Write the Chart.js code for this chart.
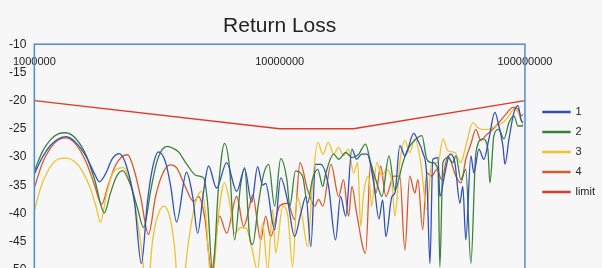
<!DOCTYPE html>
<html>
<head>
<meta charset="utf-8">
<script src="https://cdn.jsdelivr.net/npm/chart.js@4/dist/chart.umd.min.js"></script>
<style>
html,body{margin:0;padding:0;background:#f7f7f7;overflow:hidden;}
#wrap{position:relative;width:602px;height:285px;}
</style>
</head>
<body>
<div id="wrap"><canvas id="c"></canvas></div>
<script>
// ---- data (frequency in MHz, return loss in dB) ----
const seriesNames = ["1", "2", "3", "4", "limit"];
const xTickValues = [1000000, 10000000, 100000000];
const xTickLabels = ["1000000", "10000000", "100000000"];

const freq1 = [1.00,1.08,1.16,1.25,1.35,1.48,1.63,1.76,1.84,1.95,2.08,2.22,2.37,2.56,2.73,2.89,3.03,3.21,3.43,3.59,3.80,4.17,4.42,4.63,4.90,5.13,5.53,6.08,6.68,7.20,7.69,8.13,8.52,8.77,9.54,10.1,10.8,11.5,12.2,12.8,13.4,14.0,14.7,15.8,16.9,17.7,18.6,19.7,20.6,21.6,22.7,24.2,25.4,26.3,27.1,28.7,29.5,30.9,32.4,35.2,36.6,38.3,39.8,41.0,42.1,44.2,45.0,47.2,49.4,51.8,54.3,55.8,57.4,60.2,61.9,64.9,68.0,71.3,75.4,78.3,81.3,82.9,86.1,90.2,93.7,96.3,98.1];
const loss1 = [-33.0,-30.0,-28.0,-26.8,-26.4,-27.5,-30.0,-33.0,-34.4,-33.0,-30.3,-29.4,-31.5,-38.0,-48.9,-38.0,-32.0,-29.1,-31.0,-35.0,-41.5,-32.7,-37.0,-43.5,-36.0,-31.6,-35.5,-31.0,-36.1,-32.1,-38.0,-31.7,-35.0,-34.7,-42.9,-33.7,-38.0,-44.1,-40.0,-37.0,-45.9,-31.3,-31.3,-35.0,-44.7,-37.0,-40.5,-28.6,-30.4,-29.5,-29.5,-34.6,-41.0,-37.6,-44.1,-37.0,-36.4,-28.0,-29.8,-25.8,-27.1,-29.2,-33.4,-48.9,-30.4,-30.1,-37.0,-32.8,-29.5,-31.0,-38.2,-35.2,-44.7,-29.8,-32.8,-28.6,-30.4,-26.8,-22.1,-24.5,-28.0,-31.3,-26.8,-22.1,-20.9,-23.3,-23.9];

const freq2 = [1.00,1.08,1.16,1.25,1.34,1.48,1.63,1.76,1.93,2.04,2.16,2.29,2.47,2.63,2.79,2.98,3.15,3.33,3.49,3.66,3.87,4.17,4.58,4.90,5.08,5.33,5.64,5.96,6.25,6.55,6.93,7.20,7.54,7.76,8.21,8.61,9.02,9.54,10.1,10.7,11.0,11.6,12.4,13.0,13.6,14.3,15.0,15.4,16.6,17.4,18.6,19.7,21.0,22.4,23.5,24.9,26.1,27.9,29.5,31.8,33.3,35.6,38.0,39.8,41.7,44.2,45.0,46.3,48.5,50.8,52.3,54.8,57.4,60.2,63.1,67.4,70.6,72.0,74.7,78.3,82.1,86.1,90.2,93.7,98.1];
const loss2 = [-32.5,-29.0,-27.0,-25.9,-25.7,-26.8,-29.8,-34.0,-39.9,-36.5,-33.5,-32.4,-35.0,-39.0,-42.5,-36.0,-31.0,-28.6,-28.1,-28.4,-29.1,-31.2,-33.3,-33.7,-38.0,-50.5,-35.0,-27.6,-32.0,-44.7,-35.0,-31.9,-44.0,-45.5,-38.0,-33.0,-31.3,-38.7,-30.3,-34.0,-38.7,-32.5,-33.4,-38.2,-34.0,-32.2,-35.2,-33.0,-29.5,-30.4,-29.2,-30.1,-29.5,-27.7,-31.0,-34.6,-37.0,-29.8,-35.8,-31.0,-28.6,-27.0,-26.2,-30.4,-31.0,-32.2,-49.5,-31.0,-30.1,-31.0,-29.8,-34.0,-32.2,-48.9,-29.2,-26.8,-28.6,-34.6,-26.2,-25.1,-26.8,-23.9,-22.7,-24.5,-24.5];

const freq3 = [1.00,1.06,1.12,1.18,1.25,1.35,1.46,1.57,1.69,1.79,1.86,1.97,2.08,2.20,2.31,2.42,2.56,2.71,2.89,3.03,3.18,3.36,3.56,3.73,3.87,4.06,4.25,4.54,4.80,4.99,5.28,5.64,5.96,6.25,6.55,6.93,7.33,7.69,8.13,8.52,8.94,9.37,9.63,10.3,10.8,11.3,11.8,12.4,13.0,13.6,14.3,15.0,15.8,16.6,17.4,18.2,19.1,20.0,20.8,21.4,22.0,23.1,23.7,24.9,26.1,27.3,28.7,29.5,30.9,32.4,33.9,35.6,37.6,39.8,41.7,44.2,46.3,48.5,51.8,54.8,57.4,61.4,64.3,67.4,71.3,76.1,81.3,86.1,90.2,93.7,98.1];
const loss3 = [-39.6,-35.5,-33.0,-31.3,-30.4,-30.2,-30.8,-32.5,-35.5,-39.0,-41.6,-36.5,-33.0,-32.0,-31.9,-33.5,-38.0,-45.0,-54.0,-45.0,-40.5,-38.7,-40.5,-46.0,-54.0,-52.0,-45.0,-38.0,-36.1,-40.0,-53.0,-40.0,-34.6,-38.0,-43.5,-42.5,-42.7,-46.0,-50.1,-41.7,-50.1,-39.3,-47.0,-38.7,-40.5,-49.5,-37.0,-41.0,-45.9,-35.0,-27.4,-29.5,-27.4,-29.5,-28.3,-29.8,-28.6,-32.8,-31.0,-42.3,-36.4,-33.4,-38.7,-31.0,-33.4,-32.2,-34.6,-40.5,-31.0,-27.1,-29.2,-26.8,-31.0,-39.3,-31.0,-31.0,-26.8,-28.9,-29.2,-31.0,-28.0,-23.9,-24.8,-25.1,-25.1,-24.5,-23.9,-22.7,-21.5,-22.1,-24.5];

const freq4 = [1.00,1.08,1.16,1.25,1.35,1.48,1.63,1.76,1.88,2.00,2.14,2.27,2.40,2.54,2.71,2.92,3.12,3.33,3.59,3.80,4.10,4.46,4.67,4.94,5.28,5.69,6.08,6.68,7.13,7.54,7.76,8.37,8.77,9.19,10.0,10.8,11.5,12.1,13.0,13.9,14.4,15.0,16.2,17.4,18.2,19.1,19.7,20.6,22.4,23.5,24.7,25.8,27.1,29.2,30.9,32.4,33.9,35.6,36.6,38.3,39.8,41.7,43.7,45.8,48.5,52.3,54.8,57.4,60.2,63.1,66.1,69.3,74.0,78.3,83.7,89.4,93.7,96.3,98.1];
const loss4 = [-35.5,-31.0,-28.5,-27.0,-26.6,-27.8,-31.0,-35.0,-38.4,-35.0,-31.5,-30.0,-29.6,-32.0,-37.0,-43.7,-37.0,-33.0,-31.4,-31.9,-35.0,-37.9,-37.0,-40.5,-50.0,-40.5,-43.5,-37.0,-42.3,-38.7,-36.7,-44.7,-40.5,-44.1,-38.7,-38.2,-41.1,-31.0,-35.8,-38.7,-37.5,-38.7,-31.3,-37.0,-34.0,-40.5,-35.2,-40.0,-47.1,-31.0,-36.4,-31.6,-37.0,-33.4,-33.4,-46.5,-33.4,-36.4,-34.0,-42.9,-32.8,-33.4,-32.2,-34.0,-29.8,-33.4,-34.6,-30.4,-27.7,-25.1,-27.1,-26.2,-25.1,-23.9,-22.4,-21.2,-21.5,-22.7,-22.4];

const freqLimit = [1, 10, 20, 100];
const lossLimit = [-20, -25, -25, -20];

const yTicks = [-10, -15, -20, -25, -30, -35, -40, -45, -50];

// ---- build ----
const colors = ["#3050b8", "#3b803b", "#edc232", "#d85a2c", "#e2372b"];
function pts(f, v) { return f.map((m, i) => ({ x: m * 1e6, y: v[i] })); }
const sets = [[freq1, loss1], [freq2, loss2], [freq3, loss3], [freq4, loss4], [freqLimit, lossLimit]];
const datasets = sets.map((s, i) => ({
  label: seriesNames[i],
  data: pts(s[0], s[1]),
  borderColor: colors[i],
  backgroundColor: colors[i],
  borderWidth: i === 4 ? 1.4 : 1.3,
  pointRadius: 0,
  cubicInterpolationMode: i === 4 ? 'default' : 'monotone',
  tension: 0
}));

const bgPlugin = {
  id: 'bg',
  afterLayout(chart) {
    const lg = chart.legend;
    if (lg) { lg.left += 9; lg.right += 9; lg.top -= 5; lg.bottom -= 5; }
  },
  beforeDraw(chart) {
    const ctx = chart.ctx;
    ctx.save();
    ctx.fillStyle = '#f7f7f7';
    ctx.fillRect(0, 0, chart.width, chart.height);
    ctx.restore();
  },
  afterDatasetsDraw(chart) {
    const a = chart.chartArea, ctx = chart.ctx;
    ctx.save();
    ctx.strokeStyle = '#4f8ad8';
    ctx.lineWidth = 1.5;
    ctx.strokeRect(a.left, a.top, a.right - a.left, a.bottom - a.top + 10);
    ctx.restore();
  }
};

new Chart(document.getElementById('c'), {
  type: 'line',
  data: { datasets },
  options: {
    responsive: true,
    maintainAspectRatio: false,
    animation: false,
    layout: { padding: { left: 1, right: 6, top: 0, bottom: 0 } },
    scales: {
      x: {
        type: 'logarithmic',
        min: 1e6, max: 1e8,
        position: { y: -10 },
        afterBuildTicks(scale) { scale.ticks = xTickValues.map(v => ({ value: v })); },
        ticks: {
          autoSkip: false, maxRotation: 0, padding: 11, color: '#222',
          font: { family: 'Liberation Sans, Arial, sans-serif', size: 11 },
          callback: (v) => { const i = xTickValues.indexOf(v); return i >= 0 ? xTickLabels[i] : ''; }
        },
        grid: { display: false, drawTicks: false },
        border: { display: false }
      },
      y: {
        min: -50, max: -10,
        afterBuildTicks(scale) { scale.ticks = yTicks.map(v => ({ value: v })); },
        ticks: { color: '#222', padding: 8, font: { family: 'Liberation Sans, Arial, sans-serif', size: 12 } },
        grid: { display: false, drawTicks: false },
        border: { display: false }
      }
    },
    plugins: {
      title: {
        display: true, text: 'Return Loss', fullSize: false, color: '#222',
        font: { family: 'Liberation Sans, Arial, sans-serif', size: 21, weight: 'normal' },
        padding: { top: 14, bottom: 5 }
      },
      legend: {
        position: 'right',
        fullSize: false,
        labels: {
          boxWidth: 27, boxHeight: 1, padding: 9, color: '#222',
          font: { family: 'Liberation Sans, Arial, sans-serif', size: 11 }
        }
      },
      tooltip: { enabled: false }
    }
  },
  plugins: [bgPlugin]
});
</script>
</body>
</html>
